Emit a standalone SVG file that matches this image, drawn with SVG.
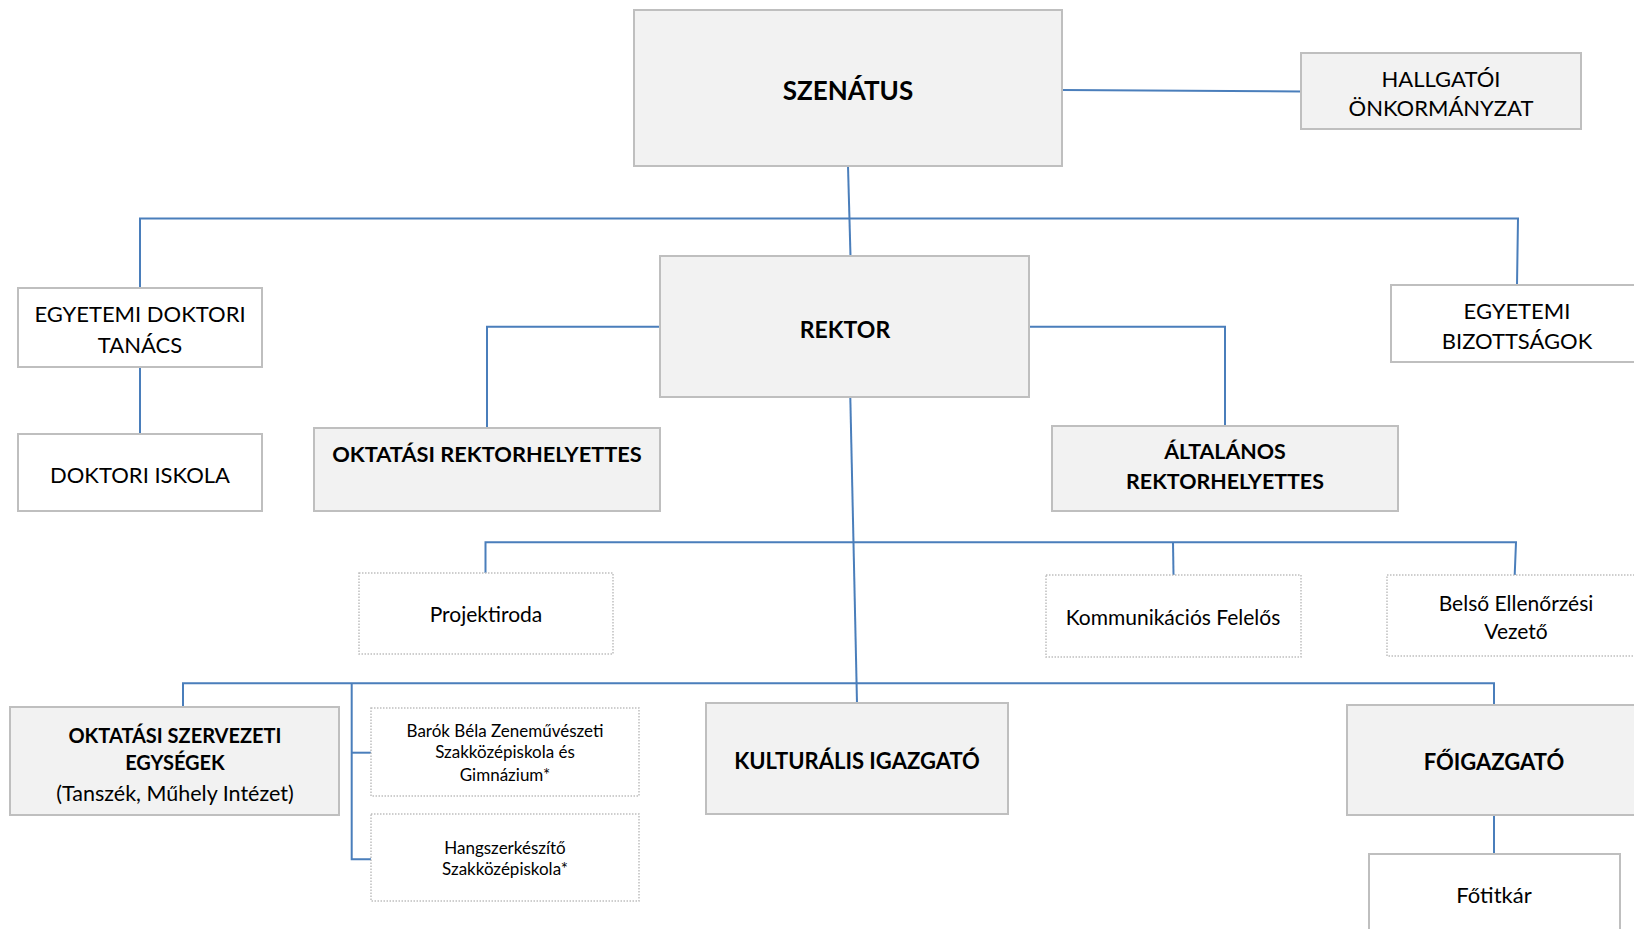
<svg xmlns="http://www.w3.org/2000/svg" width="1634" height="929" viewBox="0 0 1634 929">
  <style>
    .box { fill: #f2f2f2; stroke: #bfbfbf; stroke-width: 2; }
    .plain { fill: #ffffff; stroke: #bfbfbf; stroke-width: 2; }
    .dotted { fill: #ffffff; stroke: #bfbfbf; stroke-width: 1.5; stroke-dasharray: 1.5 1.5; }
    .link { fill: none; stroke: #4a7ebb; stroke-width: 2; }
    text { font-family: Lato, "Open Sans", "DejaVu Sans", sans-serif; fill: #000000; text-anchor: middle; }
    .b { font-weight: 700; }
  </style>
  <rect width="1634" height="929" fill="#ffffff"/>

  <!-- connectors -->
  <g id="connectors">
    <path class="link" d="M1062 90 L1301 91.5"/>
    <path class="link" d="M848 166 L850.5 256"/>
    <path class="link" d="M140 288 L140 218.5 L1518 218.5 L1517 285"/>
    <path class="link" d="M140 367 L140 434"/>
    <path class="link" d="M660 326.7 L487 326.7 L487 428"/>
    <path class="link" d="M1029 326.7 L1225 326.7 L1225 426"/>
    <path class="link" d="M850.3 397 L857 703"/>
    <path class="link" d="M485.5 573 L485.5 542.3 L1516 542.3 L1514.7 575"/>
    <path class="link" d="M1173 542.3 L1173.5 575"/>
    <path class="link" d="M183 707 L183 683.3 L1494 683.3 L1494 705"/>
    <path class="link" d="M351.7 683.3 L351.7 859.3 L371 859.3"/>
    <path class="link" d="M351.7 752.7 L371 752.7"/>
    <path class="link" d="M1494 815 L1494 854"/>
  </g>

  <g id="szenatus">
    <rect class="box" x="634" y="10" width="428" height="156"/>
    <text class="b" x="848" y="100" font-size="26">SZENÁTUS</text>
  </g>

  <g id="hallgatoi">
    <rect class="box" x="1301" y="53" width="280" height="76"/>
    <text x="1441" y="87" font-size="22">HALLGATÓI</text>
    <text x="1441" y="116" font-size="22">ÖNKORMÁNYZAT</text>
  </g>

  <g id="rektor">
    <rect class="box" x="660" y="256" width="369" height="141"/>
    <text class="b" x="845" y="338" font-size="23">REKTOR</text>
  </g>

  <g id="doktori-tanacs">
    <rect class="plain" x="18" y="288" width="244" height="79"/>
    <text x="140" y="322" font-size="22">EGYETEMI DOKTORI</text>
    <text x="140" y="353" font-size="22">TANÁCS</text>
  </g>

  <g id="doktori-iskola">
    <rect class="plain" x="18" y="434" width="244" height="77"/>
    <text x="140" y="483" font-size="22">DOKTORI ISKOLA</text>
  </g>

  <g id="bizottsagok">
    <rect class="plain" x="1391" y="285" width="252" height="77"/>
    <text x="1517" y="319" font-size="22">EGYETEMI</text>
    <text x="1517" y="349" font-size="22">BIZOTTSÁGOK</text>
  </g>

  <g id="oktatasi-rh">
    <rect class="box" x="314" y="428" width="346" height="83"/>
    <text class="b" x="487" y="462" font-size="21.8">OKTATÁSI REKTORHELYETTES</text>
  </g>

  <g id="altalanos-rh">
    <rect class="box" x="1052" y="426" width="346" height="85"/>
    <text class="b" x="1225" y="459" font-size="21.4">ÁLTALÁNOS</text>
    <text class="b" x="1225" y="489" font-size="21.4">REKTORHELYETTES</text>
  </g>

  <g id="projektiroda">
    <rect class="dotted" x="359" y="573" width="254" height="81"/>
    <text x="486" y="622" font-size="21">Projektiroda</text>
  </g>

  <g id="kommunikacio">
    <rect class="dotted" x="1046" y="575" width="255" height="82"/>
    <text x="1173" y="625" font-size="21">Kommunikációs Felelős</text>
  </g>

  <g id="belso-ellenorzes">
    <rect class="dotted" x="1387" y="575" width="258" height="81"/>
    <text x="1516" y="611" font-size="21">Belső Ellenőrzési</text>
    <text x="1516" y="639" font-size="21">Vezető</text>
  </g>

  <g id="szervezeti-egysegek">
    <rect class="box" x="10" y="707" width="329" height="108"/>
    <text class="b" x="175" y="743" font-size="20">OKTATÁSI SZERVEZETI</text>
    <text class="b" x="175" y="770" font-size="20">EGYSÉGEK</text>
    <text x="175" y="801" font-size="21.5">(Tanszék, Műhely Intézet)</text>
  </g>

  <g id="barok-bela">
    <rect class="dotted" x="371" y="708" width="268" height="88"/>
    <text x="505" y="737" font-size="17">Barók Béla Zeneművészeti</text>
    <text x="505" y="758" font-size="17">Szakközépiskola és</text>
    <text x="505" y="781" font-size="17">Gimnázium*</text>
  </g>

  <g id="hangszerkeszito">
    <rect class="dotted" x="371" y="814" width="268" height="87"/>
    <text x="505" y="854" font-size="17">Hangszerkészítő</text>
    <text x="505" y="875" font-size="17">Szakközépiskola*</text>
  </g>

  <g id="kulturalis">
    <rect class="box" x="706" y="703" width="302" height="111"/>
    <text class="b" x="857" y="769" font-size="22">KULTURÁLIS IGAZGATÓ</text>
  </g>

  <g id="foigazgato">
    <rect class="box" x="1347" y="705" width="294" height="110"/>
    <text class="b" x="1494" y="770" font-size="22">FŐIGAZGATÓ</text>
  </g>

  <g id="fotitkar">
    <rect class="plain" x="1369" y="854" width="251" height="85"/>
    <text x="1494" y="903" font-size="22">Főtitkár</text>
  </g>
</svg>
